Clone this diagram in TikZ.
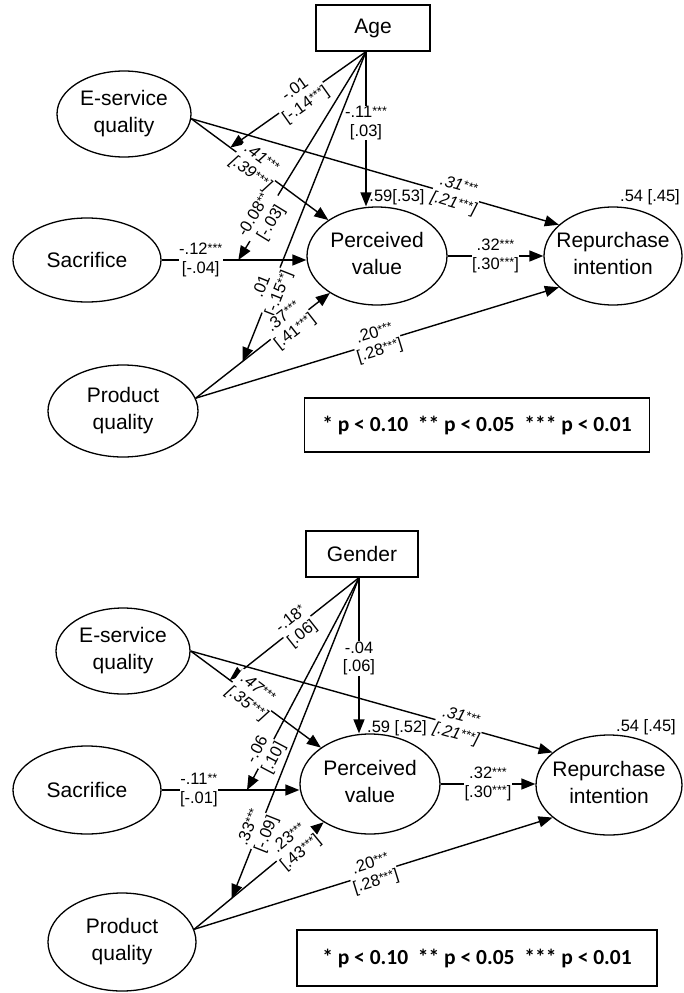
\documentclass[tikz,border=0pt]{standalone}
\usepackage{fontspec}
\setmainfont{Liberation Sans}
\newfontfamily\legfont{Carlito}
\usetikzlibrary{shapes.geometric, arrows.meta}

\newcommand{\sg}[1]{\raisebox{2.5pt}{\fontsize{12.5}{12.5}\selectfont #1}}
\newcommand{\cf}[2]{#1\\{}[#2]}
\newcommand{\twoline}[2]{\makebox[0pt]{\begin{tabular}{@{}c@{}}#1\\#2\end{tabular}}}

\begin{document}
\begin{tikzpicture}[x = 1pt, y = -1pt,
  >={Triangle[length = 14pt, width = 11pt]},
  latent/.style = {ellipse, draw, line width = 1.3pt, inner sep = 0pt, font = \fontsize{21}{27}\selectfont},
  observed/.style = {rectangle, draw, line width = 1.3pt, font = \fontsize{21}{25}\selectfont},
  link/.style = {line width = 1.4pt, ->},
  coef/.style = {fill = white, inner sep = 0.5pt, align = center, font = \fontsize{16.5}{18.5}\selectfont},
  coefit/.style = {coef, font = \fontsize{16.5}{18.5}\selectfont\itshape},
  rsq/.style = {inner sep = 0pt, font = \fontsize{16.5}{18.5}\selectfont},
  keybox/.style = {rectangle, draw, line width = 1.2pt, font = \legfont\bfseries\fontsize{21.5}{25}\selectfont}]
\useasboundingbox (0,0) rectangle (683,993);

% age
\node[observed, minimum width = 114pt, minimum height = 46pt] (age) at (373,28) {Age};
\coordinate (agep) at ([xshift = -7pt]age.south);
\node[latent, minimum width = 134pt, minimum height = 86pt] (esq1) at (124,114) {\twoline{E-service}{quality}};
\node[latent, minimum width = 148pt, minimum height = 84pt] (sac1) at (87,260) {Sacrifice};
\node[latent, minimum width = 140pt, minimum height = 98pt] (pv1) at (377,256) {\twoline{Perceived}{value}};
\node[latent, minimum width = 138pt, minimum height = 98pt] (rep1) at (613,256) {\twoline{Repurchase}{intention}};
\node[latent, minimum width = 150pt, minimum height = 92pt] (pq1) at (123,411) {\twoline{Product}{quality}};
\node[keybox, minimum width = 345pt, minimum height = 54pt] (key1) at (477,425) {* p < 0.10\ \ ** p < 0.05\ \ *** p < 0.01};
\node[rsq] (r2pv1) at (397,197) {.59[.53]};
\node[rsq] (r2rep1) at (650,197) {.54 [.45]};

\path (esq1.-4) -- coordinate[pos = 0.285] (a1) (pv1)
      (sac1.east) -- coordinate[pos = 0.53] (a2) (sac1.east -| pv1.west)
      (pq1.10) -- coordinate[pos = 0.35] (a3) (pv1);

\draw[link] (agep) -- node[coef, pos = 0.46] {\cf{-.11\sg{***}}{.03}} (agep |- pv1.north);
\draw[link] (agep) -- node[coef, sloped, pos = 0.48] {\cf{-.01}{-.14\sg{***}}} (a1);
\draw[link] (agep) -- node[coef, sloped, pos = 0.8] {\cf{-0.08\sg{***}}{-.03}} (a2);
\draw[link] (agep) -- node[coef, sloped, pos = 0.77] {\cf{.01}{-.15\sg{**}}} (a3);

\draw[link] (esq1.-4) -- node[coefit, sloped, pos = 0.47] {\cf{.41\sg{***}}{.39\sg{***}}} (pv1);
\draw[link] (esq1.-4) -- node[coefit, sloped, pos = 0.72] {\cf{.31\sg{***}}{.21\sg{***}}} (rep1.150);
\draw[link] (sac1.east) -- node[coef, pos = 0.27] {\cf{-.12\sg{***}}{-.04}} (sac1.east -| pv1.west);
\draw[link] (pv1.east) -- node[coef, pos = 0.5] {\cf{.32\sg{***}}{.30\sg{***}}} (pv1.east -| rep1.west);
\draw[link] (pq1.10) -- node[coef, sloped, pos = 0.7] {\cf{.37\sg{***}}{.41\sg{***}}} (pv1);
\draw[link] (pq1.10) -- node[coef, sloped, pos = 0.5] {\cf{.20\sg{***}}{.28\sg{***}}} (rep1.-150);

% gender
\node[observed, minimum width = 112pt, minimum height = 46pt] (gen) at (362,554) {Gender};
\coordinate (genp) at ([xshift = -3pt]gen.south);
\node[latent, minimum width = 134pt, minimum height = 86pt] (esq2) at (123,651) {\twoline{E-service}{quality}};
\node[latent, minimum width = 148pt, minimum height = 88pt] (sac2) at (87,790) {Sacrifice};
\node[latent, minimum width = 140pt, minimum height = 100pt] (pv2) at (370,784) {\twoline{Perceived}{value}};
\node[latent, minimum width = 146pt, minimum height = 100pt] (rep2) at (609,785) {\twoline{Repurchase}{intention}};
\node[latent, minimum width = 148pt, minimum height = 98pt] (pq2) at (122,942) {\twoline{Product}{quality}};
\node[keybox, minimum width = 360pt, minimum height = 56pt] (key2) at (477,958) {* p < 0.10\ \ ** p < 0.05\ \ *** p < 0.01};
\node[rsq] (r2pv2) at (397,728) {.59 [.52]};
\node[rsq] (r2rep2) at (646,727) {.54 [.45]};

\path (esq2.east) -- coordinate[pos = 0.3] (b1) (pv2)
      (sac2.east) -- coordinate[pos = 0.62] (b2) (sac2.east -| pv2.west)
      (pq2.10) -- coordinate[pos = 0.29] (b3) (pv2);

\draw[link] (genp) -- node[coef, pos = 0.52] {\cf{-.04}{.06}} (genp |- pv2.north);
\draw[link] (genp) -- node[coef, sloped, pos = 0.48] {\cf{-.18\sg{*}}{.06}} (b1);
\draw[link] (genp) -- node[coef, sloped, pos = 0.83] {\cf{-.06}{.10}} (b2);
\draw[link] (genp) -- node[coef, sloped, pos = 0.79] {\cf{.33\sg{***}}{-.09}} (b3);

\draw[link] (esq2.east) -- node[coefit, sloped, pos = 0.47] {\cf{.47\sg{***}}{.35\sg{***}}} (pv2);
\draw[link] (esq2.east) -- node[coefit, sloped, pos = 0.74] {\cf{.31\sg{***}}{.21\sg{***}}} (rep2.150);
\draw[link] (sac2.east) -- node[coef, pos = 0.27] {\cf{-.11\sg{**}}{-.01}} (sac2.east -| pv2.west);
\draw[link] (pv2.east) -- node[coef, pos = 0.5] {\cf{.32\sg{***}}{.30\sg{***}}} (pv2.east -| rep2.west);
\draw[link] (pq2.10) -- node[coef, sloped, pos = 0.78] {\cf{.23\sg{***}}{.43\sg{***}}} (pv2);
\draw[link] (pq2.10) -- node[coef, sloped, pos = 0.5] {\cf{.20\sg{***}}{.28\sg{***}}} (rep2.-150);
\end{tikzpicture}
\end{document}
